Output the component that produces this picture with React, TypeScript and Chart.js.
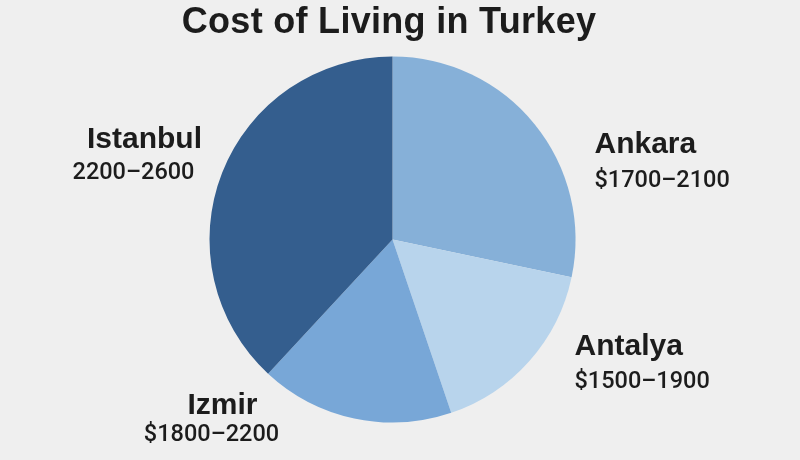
import React, { useEffect, useRef } from "react";
import { Chart, registerables } from "chart.js";

Chart.register(...registerables);

const TITLE = "Cost of Living in Turkey";
const CITIES = ["Ankara", "Antalya", "Izmir", "Istanbul"];
const RANGES = ["$1700–2100", "$1500–1900", "$1800–2200", "2200–2600"];
const SHARES = [28.3, 16.5, 17.1, 38.1];
const COLORS = ["#86b0d8", "#b8d4ec", "#78a7d7", "#345e8e"];

// label layout, offsets relative to pie centre (not data)
const LABEL_LAYOUT = [
  { align: "left", nx: 202, ny: -87, vx: 202, vy: -53 },
  { align: "left", nx: 182, ny: 115, vx: 182, vy: 148 },
  { align: "center", nx: -170, ny: 174, vx: -181, vy: 201 },
  { align: "center", nx: -248, ny: -92, vx: -259, vy: -61 },
];

const labelPlugin = {
  id: "cityLabels",
  afterDraw(chart: any) {
    const ctx = chart.ctx as CanvasRenderingContext2D;
    const meta = chart.getDatasetMeta(0);
    const arc0 = meta.data[0];
    if (!arc0) return;
    const cx = arc0.x;
    const cy = arc0.y;
    ctx.save();
    ctx.fillStyle = "#1c1c1c";
    ctx.textBaseline = "alphabetic";
    ctx.font = "bold 36px 'Liberation Sans', Arial, sans-serif";
    ctx.textAlign = "center";
    (ctx as any).letterSpacing = "0.3px";
    ctx.fillText(TITLE, 389, 33);
    meta.data.forEach((_: any, i: number) => {
      const l = LABEL_LAYOUT[i];
      ctx.textAlign = l.align as CanvasTextAlign;
      (ctx as any).letterSpacing = "0px";
      ctx.font = "bold 30px 'Liberation Sans', Arial, sans-serif";
      ctx.fillText(CITIES[i], cx + l.nx, cy + l.ny);
      ctx.font = "500 23.5px Roboto, 'Liberation Sans', sans-serif";
      ctx.fillText(RANGES[i], cx + l.vx, cy + l.vy);
    });
    ctx.restore();
  },
};

const bgPlugin = {
  id: "bg",
  beforeDraw(chart: any) {
    const ctx = chart.ctx as CanvasRenderingContext2D;
    ctx.save();
    ctx.fillStyle = "#efefef";
    ctx.fillRect(0, 0, chart.width, chart.height);
    ctx.restore();
  },
};

export default function App() {
  const ref = useRef<HTMLCanvasElement | null>(null);
  useEffect(() => {
    document.body.style.margin = "0";
    document.body.style.background = "#efefef";
    if (!ref.current) return;
    const chart = new Chart(ref.current, {
      type: "pie",
      data: {
        labels: CITIES,
        datasets: [
          {
            data: SHARES,
            backgroundColor: COLORS,
            borderWidth: 0,
          },
        ],
      },
      options: {
        responsive: false,
        animation: false,
        layout: { padding: { left: 209.5, right: 224.5, top: 56.5, bottom: 37.5 } },
        plugins: {
          legend: { display: false },
          tooltip: { enabled: false },
          title: { display: false },
        },
      },
      plugins: [bgPlugin, labelPlugin],
    });
    return () => chart.destroy();
  }, []);
  return (
    <div style={{ width: 800, height: 460 }}>
      <canvas ref={ref} width={800} height={460} style={{ display: "block" }} />
    </div>
  );
}
